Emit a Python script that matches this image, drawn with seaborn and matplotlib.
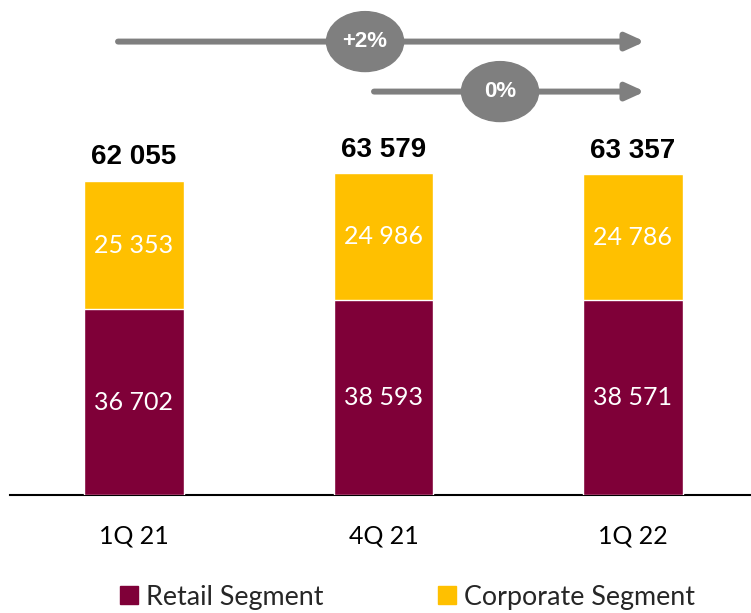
import matplotlib
matplotlib.use("Agg")
import matplotlib.pyplot as plt
from matplotlib.patches import Ellipse, Patch
import seaborn as sns
import pandas as pd

# data
quarters = ["1Q 21", "4Q 21", "1Q 22"]
retail = [36702, 38593, 38571]
corporate = [25353, 24986, 24786]
totals = [62055, 63579, 63357]
growth_labels = ["+2%", "0%"]

MAROON = "#7F0038"
GOLD = "#FFC000"
GREY = "#7F7F7F"

sns.set_style("white")
plt.rcParams["font.family"] = ["Lato", "DejaVu Sans"]

df = pd.DataFrame({"Quarter": quarters, "Retail": retail,
                   "Corporate": corporate, "Total": totals})

fig = plt.figure(figsize=(7.51, 6.13), dpi=100)
ax = fig.add_axes([10 / 751, 1 - 495 / 613, 1 - 10 / 751, 495 / 613])

# stacked bars: total in gold, retail drawn over it
sns.barplot(data=df, x="Quarter", y="Total", color=GOLD, saturation=1,
            width=0.4, ax=ax, zorder=2)
sns.barplot(data=df, x="Quarter", y="Retail", color=MAROON, saturation=1,
            width=0.4, ax=ax, zorder=3)

ax.set_xlim(-0.497, 2.473)
ax.set_ylim(0, 97820)
ax.set_xlabel("")
ax.set_ylabel("")
ax.set_yticks([])
for s in ["top", "left", "right"]:
    ax.spines[s].set_visible(False)
ax.spines["bottom"].set_color("black")
ax.spines["bottom"].set_linewidth(1.5)
ax.tick_params(axis="x", length=0, pad=21, labelsize=18, labelcolor="black")

# segment labels
for i, row in df.iterrows():
    ax.text(i, row["Retail"] / 2, f"{row['Retail']:,}".replace(",", " "),
            ha="center", va="center", color="white", fontsize=18, zorder=4)
    ax.text(i, row["Retail"] + row["Corporate"] / 2,
            f"{row['Corporate']:,}".replace(",", " "),
            ha="center", va="center", color="white", fontsize=18, zorder=4)
    ax.annotate(f"{row['Total']:,}".replace(",", " "), (i, row["Total"]),
                xytext=(0, 17), textcoords="offset points", ha="center",
                va="center", fontsize=20, fontweight="bold", color="black",
                family=["Liberation Sans", "DejaVu Sans"])

# growth arrows
tr = ax.get_xaxis_transform()
arrows = [(-0.064, 2.048, 0.916, 0.926), (0.962, 2.048, 0.815, 1.467)]
for (x0, x1, y, xc), lab in zip(arrows, growth_labels):
    ax.annotate("", xy=(x1, y), xytext=(x0, y), xycoords=tr, textcoords=tr,
                arrowprops=dict(arrowstyle="-|>,head_length=0.55,head_width=0.25",
                                lw=4.3, color=GREY, mutation_scale=20,
                                shrinkA=0, shrinkB=0),
                annotation_clip=False)
    ax.add_patch(Ellipse((xc, y), 0.309, 0.121, transform=tr, color=GREY,
                         clip_on=False, zorder=5))
    ax.text(xc, y, lab, transform=tr, ha="center", va="center", color="white",
            fontsize=16, fontweight="bold", zorder=6,
            family=["Liberation Sans", "DejaVu Sans"])

# legend
handles = [Patch(color=MAROON, label="Retail Segment"),
           Patch(color=GOLD, label="Corporate Segment")]
fig.legend(handles=handles, loc="center", bbox_to_anchor=(0.5426, 0.026),
           ncol=2, frameon=False, fontsize=19.4, handlelength=0.67,
           handleheight=0.67, handletextpad=0.3, columnspacing=4.26,
           borderaxespad=0)

fig.savefig("out.png", dpi=100)
plt.close(fig)
